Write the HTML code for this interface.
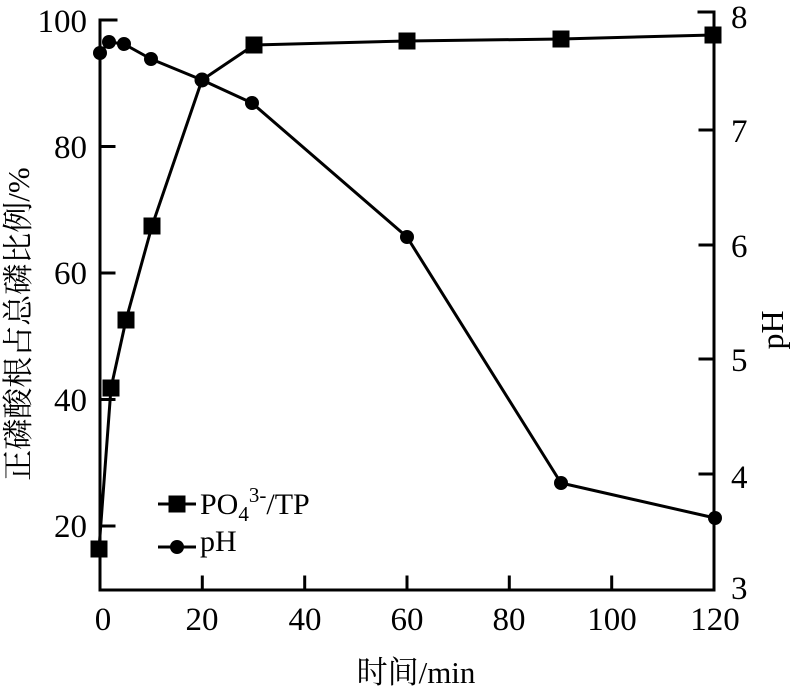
<!DOCTYPE html>
<html><head><meta charset="utf-8"><style>
html,body{margin:0;padding:0;background:#fff;}
svg{display:block;}
text{font-family:"Liberation Serif","Noto Serif CJK SC",serif;fill:#000;}
</style></head><body>
<svg width="802" height="700" viewBox="0 0 802 700" xmlns="http://www.w3.org/2000/svg" font-family="Liberation Serif, Noto Serif CJK SC, serif">
<g stroke="#000" stroke-width="3" fill="none" stroke-linecap="square">
  <polyline points="100,20 100,590 714,590 714,12"/>
  <line x1="100" y1="20" x2="116" y2="20"/>
  <line x1="100" y1="146.5" x2="114" y2="146.5"/>
  <line x1="100" y1="273" x2="114" y2="273"/>
  <line x1="100" y1="399.5" x2="114" y2="399.5"/>
  <line x1="100" y1="526" x2="114" y2="526"/>
  <line x1="202.3" y1="590" x2="202.3" y2="577"/>
  <line x1="304.7" y1="590" x2="304.7" y2="577"/>
  <line x1="407" y1="590" x2="407" y2="577"/>
  <line x1="509.3" y1="590" x2="509.3" y2="577"/>
  <line x1="611.7" y1="590" x2="611.7" y2="577"/>
  <line x1="714" y1="12" x2="699" y2="12"/>
  <line x1="714" y1="130" x2="700" y2="130"/>
  <line x1="714" y1="245" x2="700" y2="245"/>
  <line x1="714" y1="359" x2="700" y2="359"/>
  <line x1="714" y1="474" x2="700" y2="474"/>
</g>
<polyline fill="none" stroke="#000" stroke-width="3" stroke-linejoin="round"
  points="99,549 111,388 126,320 152,226 202,80 254,45 407,41 561,39 713,35"/>
<g fill="#000">
  <rect x="90.5" y="540.5" width="17" height="17"/>
  <rect x="102.5" y="379.5" width="17" height="17"/>
  <rect x="117.5" y="311.5" width="17" height="17"/>
  <rect x="143.5" y="217.5" width="17" height="17"/>
  <rect x="245.5" y="36.5" width="17" height="17"/>
  <rect x="398.5" y="32.5" width="17" height="17"/>
  <rect x="552.5" y="30.5" width="17" height="17"/>
  <rect x="704.5" y="26.5" width="17" height="17"/>
</g>
<polyline fill="none" stroke="#000" stroke-width="3" stroke-linejoin="round"
  points="100,53 109,42 124,44 151,59 202,80 252,103 407,237 561,483 715,518"/>
<g fill="#000">
  <circle cx="100" cy="53" r="7"/>
  <circle cx="109" cy="42" r="7"/>
  <circle cx="124" cy="44" r="7"/>
  <circle cx="151" cy="59" r="7"/>
  <circle cx="202" cy="80" r="7.5"/>
  <circle cx="252" cy="103" r="7"/>
  <circle cx="407" cy="237" r="7"/>
  <circle cx="561" cy="483" r="7"/>
  <circle cx="715" cy="518" r="7"/>
</g>
<g font-size="33" text-anchor="end">
  <text x="87" y="32">100</text>
  <text x="87" y="158">80</text>
  <text x="87" y="284">60</text>
  <text x="87" y="411">40</text>
  <text x="87" y="537">20</text>
</g>
<g font-size="33" text-anchor="middle">
  <text x="103" y="630">0</text>
  <text x="202" y="630">20</text>
  <text x="305" y="630">40</text>
  <text x="407" y="630">60</text>
  <text x="509" y="630">80</text>
  <text x="612" y="630">100</text>
  <text x="715" y="630">120</text>
</g>
<g font-size="33" text-anchor="start">
  <text x="731" y="28">8</text>
  <text x="731" y="142">7</text>
  <text x="731" y="257">6</text>
  <text x="731" y="371">5</text>
  <text x="731" y="488">4</text>
  <text x="731" y="599">3</text>
</g>
<text font-size="31" text-anchor="middle" x="416" y="683">时间/min</text>
<text font-size="31" text-anchor="middle" transform="translate(29,324) rotate(-90)">正磷酸根占总磷比例/%</text>
<text font-size="32" text-anchor="middle" transform="translate(783,330) rotate(-90)">pH</text>
<line x1="158" y1="504" x2="196" y2="504" stroke="#000" stroke-width="3"/>
<rect x="168.5" y="495.5" width="17" height="17" fill="#000"/>
<text x="200" y="514" font-size="30">PO<tspan font-size="21" dy="7">4</tspan><tspan font-size="21" dy="-19">3-</tspan><tspan dy="12">/TP</tspan></text>
<line x1="158" y1="547" x2="196" y2="547" stroke="#000" stroke-width="3"/>
<circle cx="177" cy="547" r="7" fill="#000"/>
<text x="200" y="551" font-size="30">pH</text>
</svg>
</body></html>
